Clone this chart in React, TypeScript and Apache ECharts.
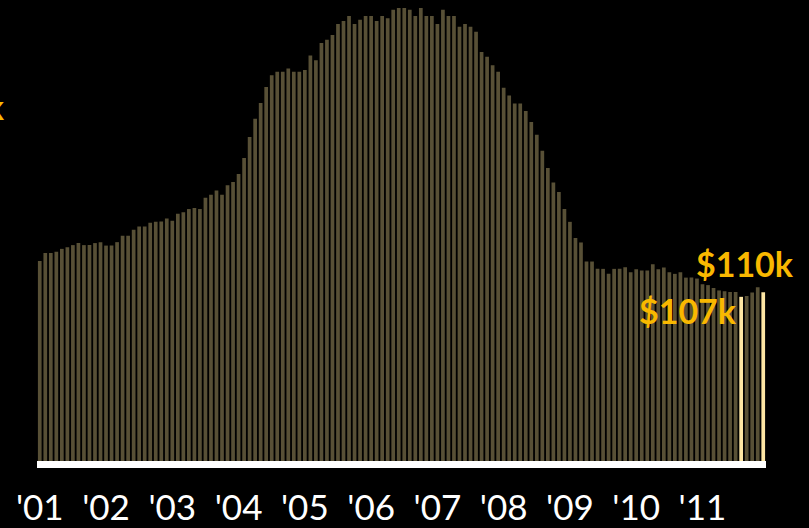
import React, { useEffect, useRef } from 'react';
import * as echarts from 'echarts';

const years = [2001, 2002, 2003, 2004, 2005, 2006, 2007, 2008, 2009, 2010, 2011];
const months = ['Jan', 'Feb', 'Mar', 'Apr', 'May', 'Jun', 'Jul', 'Aug', 'Sep', 'Oct', 'Nov', 'Dec'];
const categories = years.flatMap((y) => months.map((m) => `${m} ${y}`));
const yearLabels = ["'01", "'02", "'03", "'04", "'05", "'06", "'07", "'08", "'09", "'10", "'11"];

// monthly values, $ thousands
const values2001 = [129.9, 135.0, 135.0, 135.8, 137.7, 138.8, 140.1, 141.4, 140.1, 140.1, 141.4, 142.0];
const values2002 = [139.8, 139.8, 142.0, 146.1, 146.1, 149.9, 152.0, 152.0, 154.4, 155.0, 155.2, 157.1];
const values2003 = [155.7, 160.2, 161.2, 163.2, 163.8, 163.2, 170.4, 172.3, 175.1, 172.3, 178.5, 180.5];
const values2004 = [185.6, 195.8, 209.3, 221.0, 231.1, 241.3, 248.9, 251.1, 251.1, 253.2, 251.1, 251.1];
const values2005 = [252.2, 261.4, 258.4, 269.5, 271.6, 274.6, 281.7, 283.6, 286.8, 281.7, 284.4, 286.8];
const values2006 = [286.8, 283.6, 286.8, 285.3, 290.8, 291.9, 291.9, 290.8, 286.8, 291.9, 286.8, 286.8];
const values2007 = [281.7, 290.8, 286.8, 286.8, 279.8, 281.7, 279.8, 276.7, 263.7, 260.7, 255.3, 251.1];
const values2008 = [240.9, 235.9, 230.8, 230.8, 225.9, 218.9, 210.8, 200.5, 189.4, 180.2, 174.1, 163.2];
const values2009 = [155.0, 144.6, 141.8, 129.6, 129.6, 124.9, 124.9, 121.7, 124.9, 124.9, 126.0, 122.8];
const values2010 = [124.7, 123.8, 123.8, 127.9, 124.7, 125.8, 122.8, 121.7, 122.7, 119.3, 119.3, 118.7];
const values2011 = [115.1, 114.5, 112.6, 111.1, 110.6, 110.1, 110.1, 107.0, 107.6, 109.7, 113.2, 110.0];
const values = [
  ...values2001, ...values2002, ...values2003, ...values2004, ...values2005, ...values2006,
  ...values2007, ...values2008, ...values2009, ...values2010, ...values2011,
];

const highlightIndices = [127, 131];
const highlightLabels = ['$107k', '$110k'];
const offscreenLabel = '$130k';

export default function App() {
  const ref = useRef<HTMLDivElement>(null);
  useEffect(() => {
    document.body.style.background = '#000';
    document.body.style.margin = '0';
    const chart = echarts.init(ref.current as HTMLDivElement, null, { renderer: 'svg' });
    const data = values.map((v, i) =>
      highlightIndices.includes(i)
        ? { value: v, itemStyle: { color: '#fde6a4' } }
        : { value: v }
    );
    chart.setOption({
      animation: false,
      backgroundColor: '#000',
      grid: { left: 37, right: 43, top: 0, bottom: 64, containLabel: false },
      xAxis: {
        type: 'category',
        data: categories,
        boundaryGap: true,
        offset: 3,
        z: 5,
        axisLine: { show: true, lineStyle: { color: '#ffffff', width: 7, cap: 'butt' } },
        axisTick: { show: false },
        splitLine: { show: false },
        axisLabel: {
          interval: (i: number) => i % 12 === 0,
          formatter: (_v: string, i: number) => yearLabels[Math.floor(i / 12)],
          color: '#ffffff',
          fontSize: 35,
          lineHeight: 30,
          fontFamily: 'Lato',
          margin: 24,
        },
      },
      yAxis: { type: 'value', min: 0, max: 297, show: false },
      series: [
        {
          type: 'bar',
          data,
          barWidth: '67%',
          itemStyle: { color: '#585036' },
        },
      ],
      graphic: [
        {
          type: 'text',
          z: 100,
          x: 793,
          y: 263,
          style: {
            text: highlightLabels[1],
            fill: '#f9b800',
            font: 'bold 34px Lato',
            align: 'right',
            verticalAlign: 'middle',
          },
        },
        {
          type: 'text',
          z: 100,
          x: 736,
          y: 310,
          style: {
            text: highlightLabels[0],
            fill: '#f9b800',
            font: 'bold 34px Lato',
            align: 'right',
            verticalAlign: 'middle',
          },
        },
        {
          type: 'text',
          z: 100,
          x: 4,
          y: 106,
          style: {
            text: offscreenLabel,
            fill: '#f9b800',
            font: 'bold 34px Lato',
            align: 'right',
            verticalAlign: 'middle',
          },
        },
      ],
    });
    return () => chart.dispose();
  }, []);
  return (
    <div
      ref={ref}
      style={{ position: 'fixed', left: 0, top: 0, width: 809, height: 528, background: '#000' }}
    />
  );
}
